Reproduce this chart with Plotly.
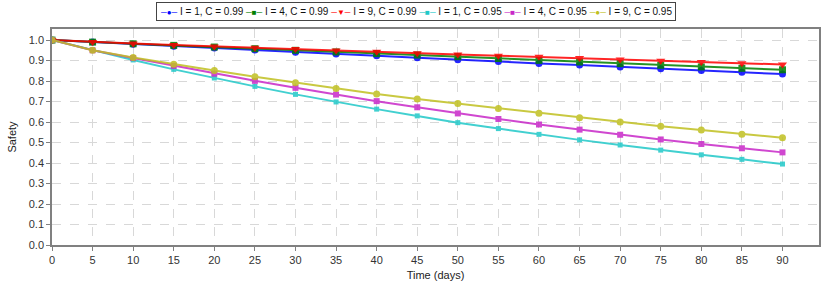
import plotly.graph_objects as go

days = [0, 5, 10, 15, 20, 25, 30, 35, 40, 45, 50, 55, 60, 65, 70, 75, 80, 85, 90]

i1_c099 = [1.0, 0.990, 0.980, 0.970, 0.961, 0.951, 0.941, 0.932, 0.923, 0.914, 0.904,
           0.895, 0.886, 0.878, 0.869, 0.860, 0.851, 0.843, 0.834]
i4_c099 = [1.0, 0.990, 0.982, 0.974, 0.966, 0.958, 0.950, 0.942, 0.934, 0.927, 0.919,
           0.910, 0.901, 0.893, 0.885, 0.877, 0.869, 0.862, 0.855]
i9_c099 = [1.0, 0.990, 0.983, 0.976, 0.969, 0.962, 0.956, 0.949, 0.943, 0.936, 0.930,
           0.924, 0.918, 0.912, 0.905, 0.899, 0.893, 0.887, 0.881]
i1_c095 = [1.0, 0.950, 0.903, 0.857, 0.815, 0.774, 0.735, 0.698, 0.663, 0.630, 0.597,
           0.568, 0.540, 0.513, 0.488, 0.463, 0.440, 0.418, 0.395]
i4_c095 = [1.0, 0.950, 0.912, 0.874, 0.836, 0.801, 0.767, 0.734, 0.702, 0.672, 0.642,
           0.615, 0.588, 0.563, 0.538, 0.515, 0.493, 0.472, 0.452]
i9_c095 = [1.0, 0.950, 0.915, 0.882, 0.851, 0.821, 0.792, 0.764, 0.737, 0.712, 0.690,
           0.666, 0.643, 0.621, 0.600, 0.580, 0.561, 0.541, 0.523]

series = [
    ("I = 1, C = 0.99", i1_c099, "#0000ff", "circle", 7, "●"),
    ("I = 4, C = 0.99", i4_c099, "#008000", "square", 7, "■"),
    ("I = 9, C = 0.99", i9_c099, "#ff0000", "triangle-down", 8, "▼"),
    ("I = 1, C = 0.95", i1_c095, "#20c8c8", "square", 5, "■"),
    ("I = 4, C = 0.95", i4_c095, "#c828c8", "square", 6, "■"),
    ("I = 9, C = 0.95", i9_c095, "#c0c020", "circle", 7, "●"),
]

fig = go.Figure()
legend_parts = []
for name, vals, color, sym, size, glyph in series:
    fig.add_trace(go.Scatter(
        x=days, y=vals, name=name, mode="lines+markers",
        line=dict(color=color, width=2),
        marker=dict(color=color, symbol=sym, size=size),
        opacity=0.85, showlegend=False,
    ))
    legend_parts.append(
        f'<span style="color:{color};font-size:8px">─{glyph}─</span> {name}'
    )

axis_common = dict(
    showgrid=True, gridcolor="#d8d8d8", griddash="dash", gridwidth=1,
    showline=True, linecolor="#808080", linewidth=1.5, mirror=True,
    ticks="outside", ticklen=4, tickcolor="#808080",
    tickfont=dict(family="Liberation Sans, Arial, sans-serif", size=11, color="#333333"),
    zeroline=False, automargin=False,
)

fig.update_layout(
    width=830, height=288,
    margin=dict(l=52, r=11, t=29, b=43),
    paper_bgcolor="white", plot_bgcolor="white",
    font=dict(family="Liberation Sans, Arial, sans-serif", size=11, color="#222222"),
    showlegend=False,
    xaxis=dict(range=[0, 94.5], tickmode="array", tickvals=days,
               title=dict(text="Time (days)", font=dict(size=11), standoff=6),
               **axis_common),
    yaxis=dict(range=[0, 1.054], tickmode="array",
               tickvals=[0.0, 0.1, 0.2, 0.3, 0.4, 0.5, 0.6, 0.7, 0.8, 0.9, 1.0],
               ticktext=["0.0", "0.1", "0.2", "0.3", "0.4", "0.5", "0.6", "0.7", "0.8", "0.9", "1.0"],
               title=dict(text="Safety", font=dict(size=11), standoff=10),
               **axis_common),
)

fig.add_annotation(
    text=" ".join(legend_parts),
    xref="paper", yref="paper", x=0.475, y=1.081,
    xanchor="center", yanchor="middle", showarrow=False,
    font=dict(family="Liberation Sans, Arial, sans-serif", size=10, color="#111111"),
    bordercolor="#444444", borderwidth=1, borderpad=3, bgcolor="white",
)

fig.write_html("out.html", config={"displayModeBar": False},
               post_script="document.body.style.margin='0';")
